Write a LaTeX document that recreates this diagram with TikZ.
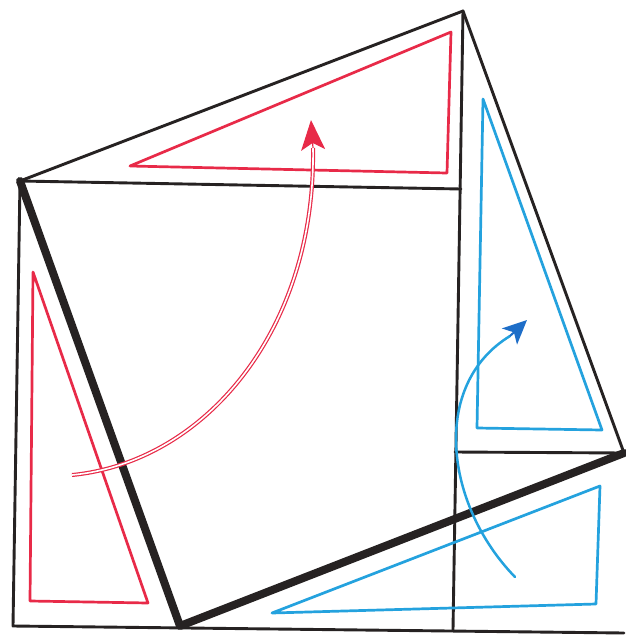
\documentclass[tikz,border=0pt]{standalone}
\usetikzlibrary{arrows.meta}
\definecolor{pen}{RGB}{38,34,34}
\definecolor{redpen}{RGB}{232,42,72}
\definecolor{bluepen}{RGB}{36,162,222}
\definecolor{darkblue}{RGB}{30,110,200}
\tikzset{
  thin line/.style={pen, line width=2.9pt, line cap=round, line join=round},
  thick line/.style={pen, line width=8pt, line cap=round, line join=round},
  red tri/.style={redpen, line width=2.7pt, line join=round, line cap=round},
  blue tri/.style={bluepen, line width=2.7pt, line join=round, line cap=round},
}
\begin{document}
\begin{tikzpicture}[x=1pt,y=-1pt]
\useasboundingbox (0,0) rectangle (626,638);
\fill[white] (0,0) rectangle (626,638);
% vertices
\coordinate (A) at (20,181);
\coordinate (B) at (180,626);
\coordinate (C) at (624,453);
\coordinate (D) at (463,11);
\coordinate (E) at (461,189);
\coordinate (F) at (455,452);
\coordinate (G) at (453,630);
\coordinate (H) at (13,626);
\coordinate (K) at (624,633);
% black construction lines
\draw[thin line] (A) -- (D) -- (C);
\draw[thin line] (A) -- (E);
\draw[thin line] (D) -- (G);
\draw[thin line] (F) -- (C);
\draw[thin line] (A) -- (H) -- (K);
\draw[thick line] (A) -- (B) -- (C);
% red triangles
\coordinate (r1) at (33,272);
\coordinate (r2) at (30,601);
\coordinate (r3) at (148,603);
\draw[red tri] (r1) -- (r2) -- (r3) -- cycle;
\coordinate (r4) at (130,166);
\coordinate (r5) at (451,32);
\coordinate (r6) at (447,173);
\draw[red tri] (r4) -- (r5) -- (r6) -- cycle;
% red arrow
\coordinate (ra) at (72,475);
\coordinate (rb) at (313,148);
\coordinate (rt) at (311,120);
\draw[redpen, line width=1.2pt, double=white, double distance=1.6pt]
  (ra) .. controls (205,462) and (316,330) .. (rb);
\draw[redpen, line width=1.2pt, -{Stealth[length=30pt,width=24pt,inset=7pt]}] (rb) -- (rt);
% blue triangles
\coordinate (b1) at (483,99);
\coordinate (b2) at (477,428);
\coordinate (b3) at (602,430);
\draw[blue tri] (b1) -- (b2) -- (b3) -- cycle;
\coordinate (b4) at (600,486);
\coordinate (b5) at (596,604);
\coordinate (b6) at (272,613);
\draw[blue tri] (b4) -- (b5) -- (b6) -- cycle;
% blue arrow
\coordinate (ba) at (515,577);
\coordinate (bb) at (510,336);
\coordinate (bt) at (527,320);
\draw[bluepen, line width=2.5pt, line cap=round]
  (ba) .. controls (445,505) and (430,385) .. (bb);
\draw[darkblue, line width=2pt, -{Stealth[length=24pt,width=22pt,inset=6pt]}] (bb) -- (bt);
\end{tikzpicture}
\end{document}
